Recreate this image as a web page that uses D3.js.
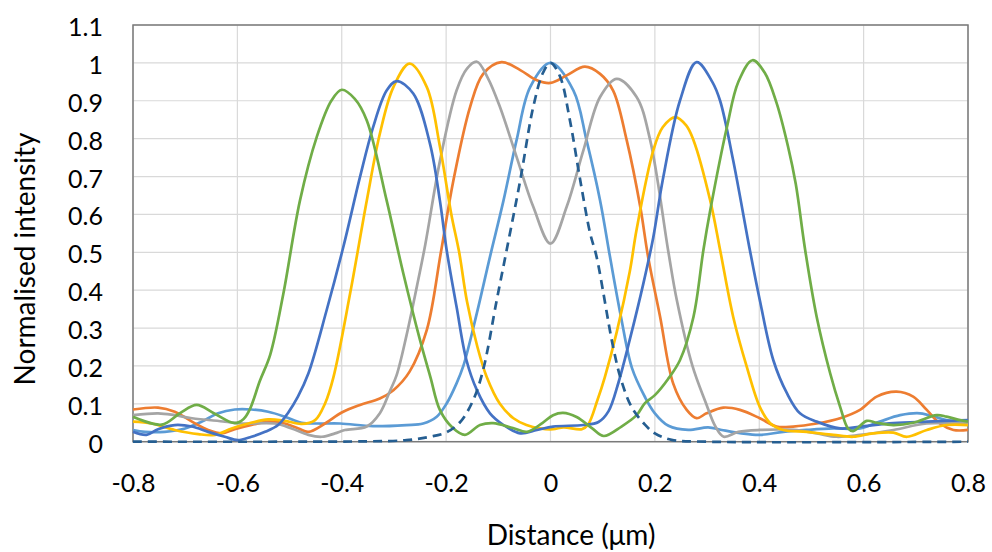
<!DOCTYPE html>
<html>
<head>
<meta charset="utf-8">
<script src="https://cdn.jsdelivr.net/npm/d3@7"></script>
<style>
  html, body { margin: 0; padding: 0; background: #ffffff; }
  svg { display: block; }
  text { font-family: Lato, "Open Sans", "DejaVu Sans", sans-serif; }
</style>
</head>
<body>
<svg id="chart" width="992" height="552"></svg>
<script>
// ---------- data ----------
const xTickValues = [-0.8, -0.6, -0.4, -0.2, 0, 0.2, 0.4, 0.6, 0.8];
const xTickLabels = ["-0.8", "-0.6", "-0.4", "-0.2", "0", "0.2", "0.4", "0.6", "0.8"];
const yTickValues = [0, 0.1, 0.2, 0.3, 0.4, 0.5, 0.6, 0.7, 0.8, 0.9, 1.0, 1.1];
const yTickLabels = ["0", "0.1", "0.2", "0.3", "0.4", "0.5", "0.6", "0.7", "0.8", "0.9", "1", "1.1"];
const xGridValues = [-0.8, -0.6, -0.4, -0.2, 0, 0.2, 0.4, 0.6, 0.8];
const xTitle = "Distance (\u03bcm)";
const yTitle = "Normalised intensity";

const lightBlue = [[-0.8,0.031],[-0.777,0.026],[-0.739,0.026],[-0.7,0.035],[-0.668,0.053],[-0.637,0.075],[-0.605,0.085],[-0.573,0.085],[-0.541,0.079],[-0.509,0.066],[-0.477,0.05],[-0.445,0.048],[-0.403,0.048],[-0.34,0.041],[-0.276,0.044],[-0.244,0.048],[-0.218,0.066],[-0.199,0.101],[-0.18,0.154],[-0.167,0.2],[-0.141,0.34],[-0.116,0.488],[-0.09,0.637],[-0.065,0.796],[-0.039,0.936],[0,1.0],[0.044,0.927],[0.069,0.796],[0.095,0.637],[0.114,0.488],[0.135,0.33],[0.156,0.195],[0.181,0.118],[0.2,0.075],[0.226,0.042],[0.264,0.031],[0.302,0.038],[0.328,0.031],[0.366,0.022],[0.401,0.018],[0.446,0.026],[0.491,0.031],[0.542,0.035],[0.593,0.035],[0.631,0.053],[0.67,0.07],[0.708,0.075],[0.746,0.062],[0.785,0.048],[0.8,0.044]];

const orange = [[-0.8,0.085],[-0.752,0.09],[-0.72,0.079],[-0.687,0.053],[-0.656,0.031],[-0.63,0.022],[-0.605,0.033],[-0.573,0.044],[-0.541,0.053],[-0.509,0.048],[-0.483,0.035],[-0.464,0.026],[-0.432,0.048],[-0.4,0.077],[-0.365,0.097],[-0.327,0.114],[-0.301,0.136],[-0.27,0.185],[-0.237,0.295],[-0.21,0.5],[-0.186,0.69],[-0.154,0.884],[-0.129,0.971],[-0.094,1.002],[-0.058,0.981],[-0.026,0.954],[0,0.947],[0.031,0.967],[0.066,0.99],[0.095,0.971],[0.12,0.927],[0.146,0.796],[0.172,0.62],[0.187,0.488],[0.21,0.33],[0.235,0.154],[0.261,0.084],[0.28,0.062],[0.299,0.075],[0.331,0.09],[0.363,0.084],[0.401,0.062],[0.433,0.04],[0.465,0.04],[0.51,0.048],[0.555,0.062],[0.593,0.084],[0.625,0.119],[0.663,0.132],[0.695,0.119],[0.721,0.084],[0.746,0.048],[0.772,0.031],[0.8,0.031]];

const gray = [[-0.8,0.07],[-0.752,0.075],[-0.72,0.07],[-0.687,0.062],[-0.624,0.053],[-0.592,0.048],[-0.528,0.048],[-0.496,0.035],[-0.464,0.018],[-0.438,0.013],[-0.413,0.022],[-0.394,0.031],[-0.352,0.04],[-0.327,0.075],[-0.307,0.136],[-0.295,0.175],[-0.276,0.28],[-0.256,0.41],[-0.24,0.52],[-0.212,0.74],[-0.18,0.927],[-0.16,0.985],[-0.141,1.003],[-0.12,0.96],[-0.097,0.884],[-0.065,0.752],[-0.033,0.62],[0,0.523],[0.031,0.62],[0.063,0.769],[0.095,0.91],[0.127,0.958],[0.165,0.91],[0.191,0.796],[0.226,0.5],[0.242,0.374],[0.272,0.2],[0.297,0.105],[0.316,0.04],[0.332,0.013],[0.36,0.026],[0.401,0.031],[0.465,0.031],[0.51,0.022],[0.548,0.013],[0.593,0.018],[0.657,0.031],[0.721,0.048],[0.8,0.048]];

const yellow = [[-0.8,0.053],[-0.764,0.048],[-0.72,0.031],[-0.675,0.02],[-0.643,0.018],[-0.611,0.035],[-0.579,0.048],[-0.541,0.059],[-0.509,0.055],[-0.477,0.047],[-0.451,0.057],[-0.432,0.101],[-0.416,0.17],[-0.384,0.391],[-0.352,0.637],[-0.327,0.813],[-0.301,0.936],[-0.27,0.998],[-0.237,0.936],[-0.212,0.78],[-0.19,0.6],[-0.175,0.5],[-0.16,0.37],[-0.14,0.25],[-0.122,0.17],[-0.097,0.1],[-0.071,0.062],[-0.046,0.044],[-0.02,0.035],[0.005,0.033],[0.025,0.038],[0.06,0.033],[0.072,0.045],[0.09,0.11],[0.104,0.17],[0.127,0.29],[0.152,0.45],[0.165,0.56],[0.197,0.769],[0.215,0.83],[0.239,0.857],[0.26,0.835],[0.274,0.796],[0.306,0.637],[0.325,0.506],[0.35,0.33],[0.376,0.198],[0.401,0.092],[0.421,0.049],[0.446,0.031],[0.491,0.026],[0.542,0.018],[0.58,0.013],[0.618,0.022],[0.657,0.024],[0.683,0.013],[0.721,0.031],[0.759,0.044],[0.8,0.044]];

const blue = [[-0.8,0.026],[-0.774,0.018],[-0.752,0.033],[-0.72,0.044],[-0.687,0.04],[-0.656,0.026],[-0.624,0.013],[-0.599,0.004],[-0.573,0.013],[-0.547,0.026],[-0.522,0.044],[-0.503,0.076],[-0.484,0.119],[-0.464,0.18],[-0.429,0.347],[-0.397,0.514],[-0.365,0.699],[-0.34,0.83],[-0.314,0.927],[-0.295,0.952],[-0.263,0.919],[-0.231,0.787],[-0.212,0.637],[-0.199,0.506],[-0.18,0.356],[-0.161,0.215],[-0.141,0.136],[-0.116,0.075],[-0.09,0.044],[-0.058,0.022],[-0.026,0.031],[0.005,0.04],[0.063,0.044],[0.092,0.052],[0.111,0.08],[0.13,0.155],[0.152,0.27],[0.178,0.418],[0.197,0.54],[0.215,0.69],[0.248,0.9],[0.28,1.002],[0.31,0.95],[0.325,0.9],[0.35,0.743],[0.382,0.506],[0.401,0.374],[0.427,0.215],[0.453,0.128],[0.478,0.075],[0.51,0.053],[0.555,0.035],[0.593,0.04],[0.657,0.049],[0.721,0.053],[0.8,0.057]];

const green = [[-0.8,0.066],[-0.745,0.045],[-0.71,0.075],[-0.678,0.097],[-0.645,0.075],[-0.605,0.049],[-0.588,0.06],[-0.576,0.086],[-0.557,0.16],[-0.537,0.23],[-0.512,0.39],[-0.48,0.637],[-0.448,0.804],[-0.42,0.9],[-0.4,0.929],[-0.375,0.905],[-0.352,0.848],[-0.314,0.637],[-0.282,0.444],[-0.25,0.268],[-0.23,0.17],[-0.212,0.084],[-0.187,0.036],[-0.164,0.018],[-0.135,0.044],[-0.11,0.049],[-0.072,0.036],[-0.045,0.026],[-0.015,0.05],[0.005,0.07],[0.024,0.076],[0.05,0.065],[0.08,0.035],[0.102,0.015],[0.136,0.04],[0.165,0.07],[0.181,0.102],[0.2,0.123],[0.225,0.165],[0.248,0.215],[0.274,0.33],[0.293,0.506],[0.306,0.61],[0.338,0.83],[0.36,0.95],[0.387,1.007],[0.41,0.975],[0.433,0.895],[0.455,0.78],[0.47,0.68],[0.488,0.506],[0.51,0.33],[0.536,0.18],[0.555,0.092],[0.57,0.035],[0.58,0.028],[0.606,0.055],[0.625,0.05],[0.657,0.044],[0.695,0.05],[0.74,0.07],[0.759,0.066],[0.785,0.057],[0.8,0.053]];

const dashed = [[-0.8,0],[-0.5,0],[-0.35,0.001],[-0.276,0.004],[-0.231,0.013],[-0.199,0.025],[-0.173,0.052],[-0.148,0.11],[-0.129,0.19],[-0.103,0.374],[-0.084,0.506],[-0.058,0.69],[-0.033,0.884],[-0.014,0.975],[0,1.0],[0.018,0.965],[0.037,0.85],[0.057,0.69],[0.076,0.55],[0.088,0.49],[0.12,0.25],[0.136,0.16],[0.156,0.09],[0.181,0.045],[0.2,0.022],[0.232,0.005],[0.3,0],[0.8,0]];

const seriesList = [
  { values: lightBlue, color: "#5B9BD5", dash: null },
  { values: orange,    color: "#ED7D31", dash: null },
  { values: gray,      color: "#A5A5A5", dash: null },
  { values: yellow,    color: "#FFC000", dash: null },
  { values: blue,      color: "#4472C4", dash: null },
  { values: green,     color: "#70AD47", dash: null },
  { values: dashed,    color: "#255E91", dash: "9,6" }
];

// ---------- layout ----------
const W = 992, H = 552;
const plot = { left: 133, right: 968, top: 25, bottom: 441.7 };

const x = d3.scaleLinear().domain([-0.8, 0.8]).range([plot.left, plot.right]);
const y = d3.scaleLinear().domain([0, 1.1]).range([plot.bottom, plot.top]);

const svg = d3.select("#chart");
svg.append("rect").attr("width", W).attr("height", H).attr("fill", "#ffffff");

// gridlines
const grid = svg.append("g");
grid.selectAll("line.h").data(yTickValues).join("line")
  .attr("x1", plot.left).attr("x2", plot.right)
  .attr("y1", d => y(d)).attr("y2", d => y(d))
  .attr("stroke", "#d9d9d9").attr("stroke-width", 1.2);
grid.selectAll("line.v").data(xGridValues).join("line")
  .attr("y1", plot.top).attr("y2", plot.bottom)
  .attr("x1", d => x(d)).attr("x2", d => x(d))
  .attr("stroke", "#d9d9d9").attr("stroke-width", 1.2);

// plot frame
svg.append("rect")
  .attr("x", plot.left).attr("y", plot.top)
  .attr("width", plot.right - plot.left).attr("height", plot.bottom - plot.top)
  .attr("fill", "none").attr("stroke", "#7a7a7a").attr("stroke-width", 1.5);

// lines
const line = d3.line().x(d => x(d[0])).y(d => y(d[1])).curve(d3.curveCatmullRom.alpha(0.5));
const lines = svg.append("g");
seriesList.forEach(s => {
  lines.append("path")
    .attr("d", line(s.values))
    .attr("fill", "none")
    .attr("stroke", s.color)
    .attr("stroke-width", 2.7)
    .attr("stroke-linejoin", "round")
    .attr("stroke-dasharray", s.dash);
});

// axes (labels only)
const xAxis = d3.axisBottom(x).tickValues(xTickValues)
  .tickFormat((d, i) => xTickLabels[i]).tickSize(0).tickPadding(0);
const gx = svg.append("g").attr("transform", "translate(0,492)").call(xAxis);
gx.select(".domain").remove();
gx.selectAll("text").attr("font-size", 25).attr("fill", "#000").attr("dy", "0");

const yAxis = d3.axisLeft(y).tickValues(yTickValues)
  .tickFormat((d, i) => yTickLabels[i]).tickSize(0).tickPadding(0);
const gy = svg.append("g").attr("transform", `translate(${plot.left - 30},0)`).call(yAxis);
gy.select(".domain").remove();
gy.selectAll("text").attr("font-size", 25).attr("fill", "#000").attr("dy", "0.42em");

// axis titles
svg.append("text")
  .attr("x", 571).attr("y", 545)
  .attr("text-anchor", "middle")
  .attr("font-size", 28).attr("fill", "#000")
  .text(xTitle);

svg.append("text")
  .attr("transform", "translate(35,259) rotate(-90)")
  .attr("text-anchor", "middle")
  .attr("font-size", 28).attr("fill", "#000")
  .text(yTitle);
</script>
</body>
</html>
